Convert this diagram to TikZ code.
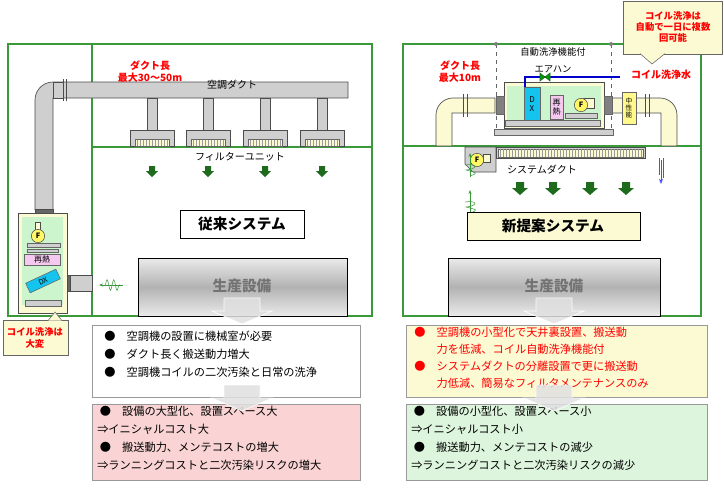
\documentclass[tikz,border=0pt]{standalone}
\usepackage{fontspec}
\setmainfont{Noto Sans CJK JP}
\usetikzlibrary{shapes.geometric,arrows.meta,decorations.pathmorphing}
\definecolor{frm}{HTML}{3A9A3A}
\definecolor{dk}{HTML}{CFCFCF}
\definecolor{ye}{HTML}{FCFAD2}
\definecolor{gin}{HTML}{CDF5CD}
\definecolor{pk}{HTML}{FAD4D4}
\definecolor{gr}{HTML}{DDF5DD}
\definecolor{dg}{HTML}{1E6B1E}
\definecolor{cy}{HTML}{14C3EE}
\definecolor{pi}{HTML}{F5C8F0}
\tikzset{
 frame/.style={draw=frm,line width=1.2pt},
 duct/.style={draw=black!70,fill=dk,line width=.5pt},
 yduct/.style={draw=black!70,fill=ye,line width=.5pt},
 ga/.style={fill=dg,draw=none},
 txt/.style={font=\fontsize{7.5}{9}\selectfont,inner sep=0},
 red/.style={txt,text=red,font=\fontsize{7.5}{9}\selectfont\bfseries},
 stxt/.style={font=\fontsize{11}{12}\selectfont\bfseries,inner sep=0},
 ptxt/.style={font=\fontsize{11}{12}\selectfont\bfseries,text=black!55,inner sep=0},
 prod/.style={draw=black,top color=black!8,bottom color=black!8,middle color=black!30},
 bul/.style={font=\fontsize{8.4}{13.4}\selectfont,align=left,inner sep=0,anchor=north west},
 boxl/.style={draw=black!40,line width=.6pt},
 bigarr/.style={fill=black!12,draw=white,line width=.6pt},
 ctxt/.style={font=\fontsize{7}{8.5}\selectfont\bfseries,text=red,align=center,inner sep=0},
 circF/.style={circle,draw=black!70,fill=yellow!60,inner sep=0,minimum size=10pt,font=\fontsize{5.5}{6}\selectfont\bfseries},
 small/.style={inner sep=0,font=\fontsize{5}{5.5}\selectfont,align=center},
}
\begin{document}
\begin{tikzpicture}[x=0.75pt,y=-0.75pt]
\useasboundingbox (0,0) rectangle (724,487);
% ===== LEFT FRAME
\draw[frame] (8,44) rectangle (372,316);
\draw[frame] (92,44) -- (92,316);
\draw[frame] (92,147) -- (372,147);
% duct
\draw[duct] (35,210) -- (35,100) arc (180:270:18) -- (348,82) -- (348,98) -- (53,98) -- (53,210) -- cycle;
\fill[dk] (36,99) rectangle (52,116);
\draw[duct] (53,82) rectangle (63,98);
\draw[black!70] (63,79) -- (63,101) (66,79) -- (66,101);
\foreach \x in {152,208,265,322}{
 \draw[duct] (\x-5,98) rectangle (\x+5,130);
 \draw[duct] (\x-22,130) rectangle (\x+22,146);
 \draw[black!60,fill=ye] (\x-17,139) rectangle (\x+17,146);
 \foreach \k in {-15,-12,...,15} \draw[black!40,line width=.3pt] (\x+\k,140) -- (\x+\k,146);
 \fill[ga] (\x-3,166) -- (\x+3,166) -- (\x+3,171) -- (\x+6,171) -- (\x,177) -- (\x-6,171) -- (\x-3,171) -- cycle;
}
\node[red,align=center] (dl1) at (150,72) {ダクト長\\最大30～50m};
\node[txt] (kd) at (232,85) {空調ダクト};
\node[txt] (fu) at (240,157) {フィルターユニット};
\draw[black,line width=.6pt] (180,210) rectangle (304,238);
\node[stxt] (old) at (242,224) {従来システム};
\draw[prod] (138,258) rectangle (347,316);
\node[ptxt] (p1) at (242,286) {生産設備};
% AHU left
\draw[black!70,fill=black!60] (35,209) rectangle (53,213);
\draw[black!70,fill=ye] (18,213) rectangle (67,313);
\fill[gin] (22,217) rectangle (63,305);
\draw[black!70,fill=ye] (35,222) rectangle (40,230);
\node[circF] (fa) at (38,236) {F};
\draw[black!60,fill=dk] (27,243) rectangle (60,247);
\draw[black!60,fill=dk] (27,249) rectangle (58,252);
\draw[black!60,fill=pi] (24,254) rectangle (60,265);
\node[small,font=\fontsize{6}{6}\selectfont] (rh) at (42,259.5) {再熱};
\node[draw=black!60,fill=cy,minimum width=25pt,minimum height=8pt,inner sep=0,rotate=25,font=\fontsize{5.5}{6}\selectfont] (dx) at (43,281) {DX};
\draw[black!60,fill=dk] (25,300) rectangle (61,306);
\draw[duct] (68,275) rectangle (92,291);
\draw[black!70,fill=black!60] (67,275) rectangle (70,291);
\draw[frm,-{Stealth[length=3]}] (123,285) -- (99,285);
\draw[frm,decorate,decoration={snake,amplitude=4,segment length=5}] (105,285) -- (120,285);
\draw[black!60,fill=ye] (3,320) rectangle (68,355);
\draw[black!60,fill=ye] (48,320.6) -- (55,312) -- (62,320.6);
\node[ctxt] (c1) at (35,338) {コイル洗浄は\\大変};
% ===== RIGHT FRAME
\draw[frame] (403,44) rectangle (701,316);
\draw[frame] (403,146) -- (701,146);
\draw[black!60,dashed] (496,44) -- (496,130) (611,44) -- (611,130);
\fill[black!50] (496,44) circle (2) (611,44) circle (2);
% ducts
\draw[yduct] (436,146) -- (436,115) arc (180:270:17) -- (495,98) -- (495,113) -- (452,113) -- (452,146) -- cycle;
\draw[black!70] (463,94) -- (463,117) (467,94) -- (467,117);
\draw[yduct] (612,98) -- (660,98) arc (270:360:17) -- (677,146) -- (661,146) -- (661,113) -- (612,113) -- cycle;
\draw[black!70] (645,94) -- (645,117) (649,94) -- (649,117);
\draw[black!60,fill=yellow!45] (622,92) rectangle (636,124);
\node[small] (cs) at (629,108) {中\\性\\能};
% AHU right
\draw[black!70,fill=ye] (504,82) rectangle (604,128);
\fill[gin] (507,86) rectangle (601,127);
\draw[black!60,fill=black!50] (496,96) rectangle (504,114) (604,96) rectangle (612,114);
\draw[black!60,fill=dk] (494,129) rectangle (613,135);
\draw[black!60,fill=dk] (505,120) rectangle (600,126);
\draw[black!60,fill=dk] (565,113) rectangle (597,118);
\draw[black!60,fill=cy] (524,87) rectangle (540,120);
\node[small,font=\fontsize{6}{7}\selectfont] (dxr) at (532,104) {D\\X};
\draw[black!60,fill=pi] (550,95) rectangle (563,119);
\node[small,font=\fontsize{6}{7}\selectfont] (rhr) at (556.5,107) {再\\熱};
\draw[black!70,fill=ye] (583,98) rectangle (594,108);
\node[circF] (fr) at (581,105) {F};
\draw[blue!80!black,line width=.8pt] (525,87) -- (525,77) -- (620,77);
\draw[dg,fill=green!60!black] (540,73) -- (540,81) -- (550,73) -- (550,81) -- cycle;
\node[red] (cw) at (661,75) {コイル洗浄水};
\node[txt,align=center,font=\fontsize{7}{13}\selectfont] (ah) at (553,60) {自動洗浄機能付\\エアハン};
\node[red,align=center] (dl2) at (460,72) {ダクト長\\最大10m};
\draw[black!60,fill=ye] (623,1) rectangle (722,54);
\draw[black!60,fill=ye] (640,53.6) -- (652,64) -- (665,53.6);
\node[ctxt] (c2) at (673,27) {コイル洗浄は\\自動で一日に複数\\回可能};
% system duct
\draw[duct] (465,147) -- (496,147) -- (496,172) -- (473,172) -- (465,164) -- cycle;
\draw[black!70,fill=ye] (483,154) rectangle (490,162);
\node[circF] (fs) at (477,160) {F};
\draw[duct] (496,147) rectangle (645,158);
\draw[black!60,fill=ye] (498,149) rectangle (643,157);
\foreach \k in {500,503,...,642} \draw[black!40,line width=.3pt] (\k,149) -- (\k,157);
\node[txt] (sd) at (542,170) {システムダクト};
\foreach \x in {520,553,590,626}
 \fill[ga] (\x-4,182) -- (\x+4,182) -- (\x+4,188) -- (\x+8,188) -- (\x,195) -- (\x-8,188) -- (\x-4,188) -- cycle;
\draw[blue!70,line width=.5pt] (659,158) -- (659,175) (663,158) -- (663,178);
\draw[blue!70,-{Stealth[length=4]}] (661,160) -- (661,184);
\foreach \y in {165,202}{
 \draw[frm,-{Stealth[length=3]}] (470,\y+12) -- (470,\y-12);
 \draw[frm] (465,\y) .. controls (478,\y-2) and (478,\y+4) .. (466,\y+5) .. controls (478,\y+8) .. (470,\y+11);
}
\draw[black,line width=.6pt,fill=ye] (467,212) rectangle (640,240);
\node[stxt] (new) at (553,226) {新提案システム};
\draw[prod] (448,258) rectangle (660,316);
\node[ptxt] (p2) at (554,286) {生産設備};
% ===== bottom boxes
\draw[boxl,fill=white] (92,325) rectangle (360,397);
\node[bul] (b1) at (104,331) {●\quad 空調機の設置に機械室が必要\\●\quad ダクト長く搬送動力増大\\●\quad 空調機コイルの二次汚染と日常の洗浄};
\draw[boxl,fill=pk] (92,404) rectangle (360,480);
\node[bul] (b2) at (97,406) {\ ●\quad 設備の大型化、設置スペース大\\⇒イニシャルコスト大\\\ ●\quad 搬送動力、メンテコストの増大\\⇒ランニングコストと二次汚染リスクの増大};
\draw[boxl,fill=ye] (406,325) rectangle (707,397);
\node[bul,text=red,font=\fontsize{8.4}{12.6}\selectfont] (b3) at (414,327) {●\quad 空調機の小型化で天井裏設置、搬送動\\\phantom{●\quad }力を低減、コイル自動洗浄機能付\\●\quad システムダクトの分離設置で更に搬送動\\\phantom{●\quad }力低減、簡易なフィルタメンテナンスのみ};
\draw[boxl,fill=gr] (406,404) rectangle (707,480);
\node[bul] (b4) at (411,406) {\ ●\quad 設備の小型化、設置スペース小\\⇒イニシャルコスト小\\\ ●\quad 搬送動力、メンテコストの減少\\⇒ランニングコストと二次汚染リスクの減少};
% gray arrows
\foreach \x/\y in {242/298, 242/385, 554/298, 554/385}{
 \draw[bigarr,opacity=.85] (\x-18,\y) -- (\x+18,\y) -- (\x+18,\y+13) -- (\x+30,\y+13) -- (\x,\y+26) -- (\x-30,\y+13) -- (\x-18,\y+13) -- cycle;
}
\end{tikzpicture}
\end{document}
